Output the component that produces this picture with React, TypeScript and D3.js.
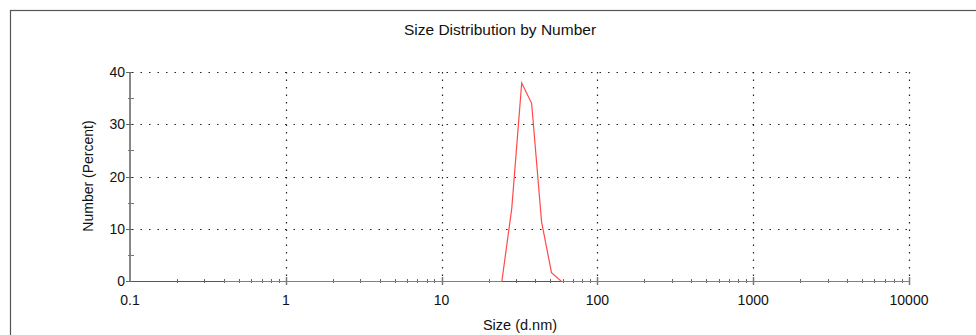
import React, { useEffect, useRef } from 'react'
import * as d3 from 'd3'

// size bins (d.nm) and number %
const sizes = [
  0.4, 0.4632, 0.5365, 0.6213, 0.7195, 0.8332, 0.9649, 1.117, 1.294, 1.499,
  1.736, 2.01, 2.328, 2.696, 3.122, 3.615, 4.187, 4.849, 5.615, 6.503,
  7.531, 8.721, 10.1, 11.7, 13.54, 15.69, 18.17, 21.04, 24.36, 28.21,
  32.67, 37.84, 43.82, 50.75, 58.77, 68.06, 78.82, 91.28, 105.7, 122.4,
  141.8, 164.2, 190.1, 220.2, 255.0, 295.3, 342.0, 396.1, 458.7, 531.2,
  615.1, 712.4, 825.0, 955.4, 1106, 1281, 1484, 1718, 1990, 2305,
  2669, 3091, 3580, 4145, 4801, 5560, 6439, 7456, 8635, 10000
]
const numbers = [
  0, 0, 0, 0, 0, 0, 0, 0, 0, 0,
  0, 0, 0, 0, 0, 0, 0, 0, 0, 0,
  0, 0, 0, 0, 0, 0, 0, 0, 0, 14.0,
  38.0, 34.1, 11.4, 1.7, 0, 0, 0, 0, 0, 0,
  0, 0, 0, 0, 0, 0, 0, 0, 0, 0,
  0, 0, 0, 0, 0, 0, 0, 0, 0, 0,
  0, 0, 0, 0, 0, 0, 0, 0, 0, 0
]
const xTicks = [0.1, 1, 10, 100, 1000, 10000]
const xTickLabels = ['0.1', '1', '10', '100', '1000', '10000']
const yTicks = [0, 10, 20, 30, 40]
const yMinorTicks = [5, 15, 25, 35]

const FONT = 'Liberation Sans, Arial, sans-serif'

export default function App() {
  const ref = useRef<SVGSVGElement>(null)

  useEffect(() => {
    const svg = d3.select(ref.current)
    svg.selectAll('*').remove()

    const x = d3.scaleLog().domain([0.1, 10000]).range([130, 909])
    const y = d3.scaleLinear().domain([0, 40]).range([281, 72])

    // outer frame
    svg.append('rect')
      .attr('x', 10.5).attr('y', 10.5)
      .attr('width', 1000).attr('height', 400)
      .attr('fill', 'none').attr('stroke', '#555').attr('stroke-width', 1.2)

    svg.append('text')
      .attr('x', 500).attr('y', 35)
      .attr('text-anchor', 'middle')
      .attr('font-family', FONT).attr('font-size', 15.5)
      .attr('fill', '#111')
      .text('Size Distribution by Number')

    const g = svg.append('g')

    // dotted grid
    g.selectAll('.hgrid').data(yTicks.slice(1)).enter().append('line')
      .attr('x1', x(0.1) + 2).attr('x2', x(10000))
      .attr('y1', d => Math.round(y(d)) + 0.5).attr('y2', d => Math.round(y(d)) + 0.5)
      .attr('stroke', '#222').attr('stroke-width', 1.2)
      .attr('stroke-dasharray', '1.5,7')
    g.selectAll('.vgrid').data(xTicks.slice(1)).enter().append('line')
      .attr('x1', d => Math.round(x(d)) + 0.5).attr('x2', d => Math.round(x(d)) + 0.5)
      .attr('y1', y(40)).attr('y2', y(0) - 2)
      .attr('stroke', '#222').attr('stroke-width', 1.2)
      .attr('stroke-dasharray', '1.5,6')

    // x axis
    g.append('line')
      .attr('x1', x(0.1)).attr('x2', x(10000))
      .attr('y1', y(0) + 0.5).attr('y2', y(0) + 0.5)
      .attr('stroke', '#555')
    const minors: number[] = []
    xTicks.slice(0, -1).forEach(d => {
      for (let k = 2; k <= 9; k++) minors.push(d * k)
    })
    g.selectAll('.xminor').data(minors).enter().append('line')
      .attr('x1', d => Math.round(x(d)) + 0.5).attr('x2', d => Math.round(x(d)) + 0.5)
      .attr('y1', y(0) - 2).attr('y2', y(0) + 2)
      .attr('stroke', '#666')
    g.selectAll('.xmajor').data(xTicks.slice(1)).enter().append('line')
      .attr('x1', d => Math.round(x(d)) + 0.5).attr('x2', d => Math.round(x(d)) + 0.5)
      .attr('y1', y(0) - 4).attr('y2', y(0) + 4)
      .attr('stroke', '#777').attr('stroke-width', 1.5)
    g.selectAll('.xlabel').data(xTicks).enter().append('text')
      .attr('x', d => x(d)).attr('y', 305)
      .attr('text-anchor', 'middle')
      .attr('font-family', FONT).attr('font-size', 14).attr('fill', '#111')
      .text((d, i) => xTickLabels[i])

    // y axis
    g.append('line')
      .attr('x1', x(0.1)).attr('x2', x(0.1))
      .attr('y1', y(40)).attr('y2', y(0) + 1)
      .attr('stroke', '#888').attr('stroke-width', 2)
    g.selectAll('.ymajor').data(yTicks).enter().append('line')
      .attr('x1', x(0.1) - 4).attr('x2', x(0.1) + 2)
      .attr('y1', d => Math.round(y(d)) + 0.5).attr('y2', d => Math.round(y(d)) + 0.5)
      .attr('stroke', '#666')
    g.selectAll('.yminor').data(yMinorTicks).enter().append('line')
      .attr('x1', x(0.1) - 2).attr('x2', x(0.1) + 4)
      .attr('y1', d => Math.round(y(d)) + 0.5).attr('y2', d => Math.round(y(d)) + 0.5)
      .attr('stroke', '#777')
    g.selectAll('.ylabel').data(yTicks).enter().append('text')
      .attr('x', x(0.1) - 5).attr('y', d => y(d) + 5)
      .attr('text-anchor', 'end')
      .attr('font-family', FONT).attr('font-size', 14).attr('fill', '#111')
      .text(d => d)

    // axis titles
    svg.append('text')
      .attr('x', 520).attr('y', 330)
      .attr('text-anchor', 'middle')
      .attr('font-family', FONT).attr('font-size', 14.5).attr('fill', '#111')
      .text('Size (d.nm)')
    svg.append('text')
      .attr('transform', 'translate(93,176) rotate(-90)')
      .attr('text-anchor', 'middle')
      .attr('font-family', FONT).attr('font-size', 14).attr('fill', '#111')
      .text('Number (Percent)')

    // distribution line
    const line = d3.line<number>()
      .x((d, i) => x(sizes[i]))
      .y(d => y(d) + 0.5)
    g.append('path')
      .datum(numbers)
      .attr('d', line)
      .attr('fill', 'none')
      .attr('stroke', '#ff4a4a')
      .attr('stroke-width', 1.2)
  }, [])

  return (
    <div>
      <svg ref={ref} width='976' height='335'
        style={{ position: 'absolute', left: 0, top: 0, background: '#fff' }}>
      </svg>
    </div>
  )
}
